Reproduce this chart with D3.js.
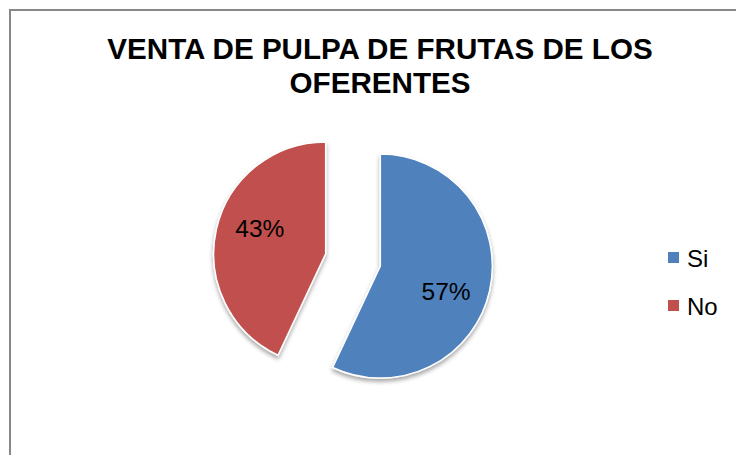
<!DOCTYPE html>
<html>
<head>
<meta charset="utf-8">
<script src="https://cdn.jsdelivr.net/npm/d3@7"></script>
<style>
  html, body { margin: 0; padding: 0; background: #fff; }
  svg { display: block; font-family: 'Liberation Sans', Arial, sans-serif; }
</style>
</head>
<body>
<div id="chart"></div>
<script>
// Chart data
const categories = ['Si', 'No']
const values = [57, 43]
const colors = ['#4F81BD', '#C0504D']
const titleLines = ['VENTA DE PULPA DE FRUTAS DE LOS', 'OFERENTES']

const width = 736, height = 455
const cx = 353, cy = 260 // pie centre
const radius = 112
const explode = 28 // how far each slice is pulled out

const svg = d3.select('#chart').append('svg')
  .attr('width', width)
  .attr('height', height)

// chart border (runs off the right / bottom like the reference)
svg.append('rect')
  .attr('x', 10).attr('y', 10)
  .attr('width', width + 20).attr('height', height + 20)
  .attr('fill', '#fff')
  .attr('stroke', '#888')
  .attr('stroke-width', 2)

// soft drop shadow for the slices
const defs = svg.append('defs')
defs.append('filter')
  .attr('id', 'shadow')
  .attr('x', '-20%').attr('y', '-20%')
  .attr('width', '140%').attr('height', '140%')
  .append('feDropShadow')
  .attr('dx', 0).attr('dy', 3)
  .attr('stdDeviation', 2.2)
  .attr('flood-color', '#000')
  .attr('flood-opacity', 0.35)

// title
svg.append('text')
  .attr('x', 380)
  .attr('y', 59)
  .attr('text-anchor', 'middle')
  .attr('font-size', 29.6)
  .attr('font-weight', 'bold')
  .attr('fill', '#000')
  .selectAll('tspan')
  .data(titleLines)
  .enter()
  .append('tspan')
  .attr('x', 380)
  .attr('dy', (d, i) => (i === 0 ? 0 : 34))
  .text((d) => d)

const data = categories.map((c, i) => ({ name: c, value: values[i], color: colors[i] }))

const pie = d3.pie().sort(null).value((d) => d.value)
const arc = d3.arc().innerRadius(0).outerRadius(radius)
const arcs = pie(data)

const g = svg.append('g').attr('transform', `translate(${cx},${cy})`)

// offset of a slice along its bisector
function sliceOffset(d, dist, extra = 0) {
  const a = (d.startAngle + d.endAngle) / 2 + extra
  return [Math.sin(a) * dist, -Math.cos(a) * dist]
}

g.selectAll('path.slice')
  .data(arcs)
  .enter()
  .append('path')
  .attr('class', 'slice')
  .attr('d', arc)
  .attr('transform', (d) => `translate(${sliceOffset(d, explode)})`)
  .attr('fill', (d) => d.data.color)
  .attr('stroke', '#fff')
  .attr('stroke-width', 1.5)
  .attr('filter', 'url(#shadow)')

// percentage labels inside the slices
const total = d3.sum(values)
g.selectAll('text.label')
  .data(arcs)
  .enter()
  .append('text')
  .attr('class', 'label')
  .attr('transform', (d) => {
    const o = sliceOffset(d, explode)
    const l = sliceOffset(d, radius * 0.63, 0.15)
    return `translate(${o[0] + l[0]},${o[1] + l[1]})`
  })
  .attr('text-anchor', 'middle')
  .attr('dy', '0.36em')
  .attr('font-size', 24.5)
  .attr('fill', '#000')
  .text((d) => d3.format('.0%')(d.data.value / total))

// legend
const legend = svg.append('g').attr('transform', 'translate(668,252)')
const items = legend.selectAll('g')
  .data(data)
  .enter()
  .append('g')
  .attr('transform', (d, i) => `translate(0,${i * 48})`)
items.append('rect')
  .attr('width', 11).attr('height', 11)
  .attr('fill', (d) => d.color)
items.append('text')
  .attr('x', 19)
  .attr('y', 15)
  .attr('font-size', 24)
  .attr('fill', '#000')
  .text((d) => d.name)
</script>
</body>
</html>
